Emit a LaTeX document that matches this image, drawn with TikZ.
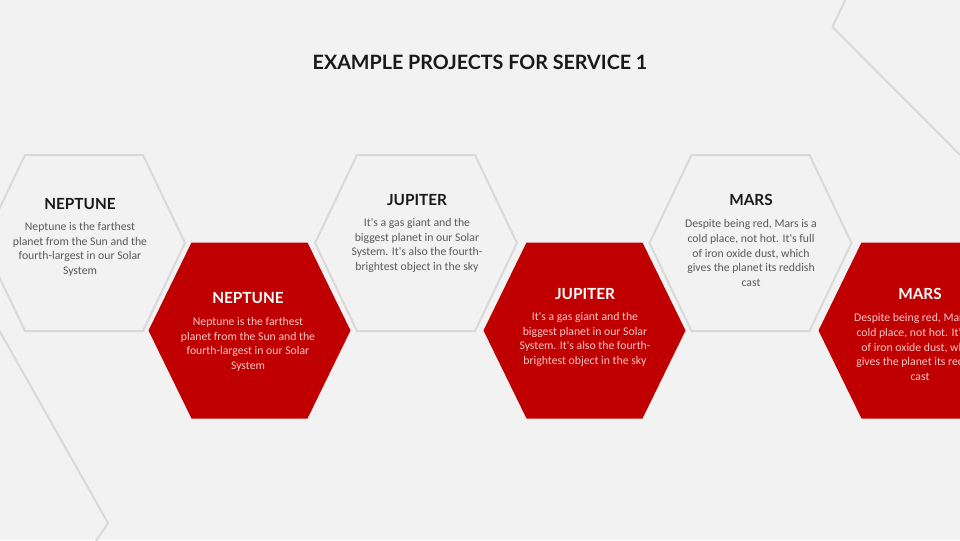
\documentclass[tikz,border=0pt]{standalone}
\usepackage{fontspec}
\setmainfont{Lato}
\newfontfamily\bodyfont{Carlito}
\definecolor{bgGray}{RGB}{242,242,242}
\definecolor{lineGray}{RGB}{217,217,217}
\definecolor{hexRed}{RGB}{192,0,0}
\definecolor{textGray}{RGB}{89,89,89}
\definecolor{textPink}{RGB}{248,200,200}
\tikzset{
  grayhex/.style={draw=lineGray, line width=1.5pt, line join=miter},
  redhex/.style={fill=hexRed},
  deco/.style={draw=lineGray, line width=1.5pt},
  headtitle/.style={font=\bfseries\fontsize{14.8}{17}\selectfont, text=black!90},
  headgray/.style={font=\bfseries\fontsize{11.5}{13}\selectfont, text=black!90, inner sep=0pt},
  headred/.style={font=\bfseries\fontsize{11.5}{13}\selectfont, text=white, inner sep=0pt},
  bodygray/.style={font=\bodyfont\fontsize{8.8}{10.9}\selectfont, text=textGray, align=center, inner sep=0pt},
  bodyred/.style={font=\bodyfont\fontsize{8.8}{10.9}\selectfont, text=textPink, align=center, inner sep=0pt}
}
\begin{document}
\begin{tikzpicture}[x=0.75pt, y=-0.75pt]
% background
\fill[bgGray] (0,0) rectangle (960,540);
\useasboundingbox (0,0) rectangle (960,540);
\clip (0,0) rectangle (960,540);

% Drawing decorative outlines
\draw[deco] (-10,314) -- (108,523) -- (90,550);
\draw[deco] (850,-10) -- (832.5,27) -- (975,170);

% Title
\node[headtitle] (title) at (480,62) {EXAMPLE PROJECTS FOR SERVICE 1};

% Drawing gray hexagons
\draw[grayhex, shift={(84,243)}] (-101,0) -- (-59,-88) -- (59,-88) -- (101,0) -- (59,88) -- (-59,88) -- cycle;
\draw[grayhex, shift={(416,243)}] (-101,0) -- (-59,-88) -- (59,-88) -- (101,0) -- (59,88) -- (-59,88) -- cycle;
\draw[grayhex, shift={(750.5,243)}] (-101,0) -- (-59,-88) -- (59,-88) -- (101,0) -- (59,88) -- (-59,88) -- cycle;

% Filling red hexagons
\fill[redhex, shift={(249.5,330.5)}] (-101,0) -- (-58,-88) -- (58,-88) -- (101,0) -- (58,88) -- (-58,88) -- cycle;
\fill[redhex, shift={(584.5,330.5)}] (-101,0) -- (-58,-88) -- (58,-88) -- (101,0) -- (58,88) -- (-58,88) -- cycle;
\fill[redhex, shift={(919.5,330.5)}] (-101,0) -- (-58,-88) -- (58,-88) -- (101,0) -- (58,88) -- (-58,88) -- cycle;

% Neptune
\node[headgray] (neptuneHeadA) at (80,204) {NEPTUNE};
\node[bodygray] (neptuneTextA) at (80,249.5) {Neptune is the farthest\\planet from the Sun and the\\fourth-largest in our Solar\\System};
\node[headred] (neptuneHeadB) at (248,298) {NEPTUNE};
\node[bodyred] (neptuneTextB) at (248,344.5) {Neptune is the farthest\\planet from the Sun and the\\fourth-largest in our Solar\\System};

% Jupiter
\node[headgray] (jupiterHeadA) at (417,200) {JUPITER};
\node[bodygray] (jupiterTextA) at (417,245.5) {It's a gas giant and the\\biggest planet in our Solar\\System. It's also the fourth-\\brightest object in the sky};
\node[headred] (jupiterHeadB) at (585,294) {JUPITER};
\node[bodyred] (jupiterTextB) at (585,339.5) {It's a gas giant and the\\biggest planet in our Solar\\System. It's also the fourth-\\brightest object in the sky};

% Mars
\node[headgray] (marsHeadA) at (751,200) {MARS};
\node[bodygray] (marsTextA) at (751,253) {Despite being red, Mars is a\\cold place, not hot. It's full\\of iron oxide dust, which\\gives the planet its reddish\\cast};
\node[headred] (marsHeadB) at (920,294) {MARS};
\node[bodyred] (marsTextB) at (920,347) {Despite being red, Mars is a\\cold place, not hot. It's full\\of iron oxide dust, which\\gives the planet its reddish\\cast};
\end{tikzpicture}
\end{document}
